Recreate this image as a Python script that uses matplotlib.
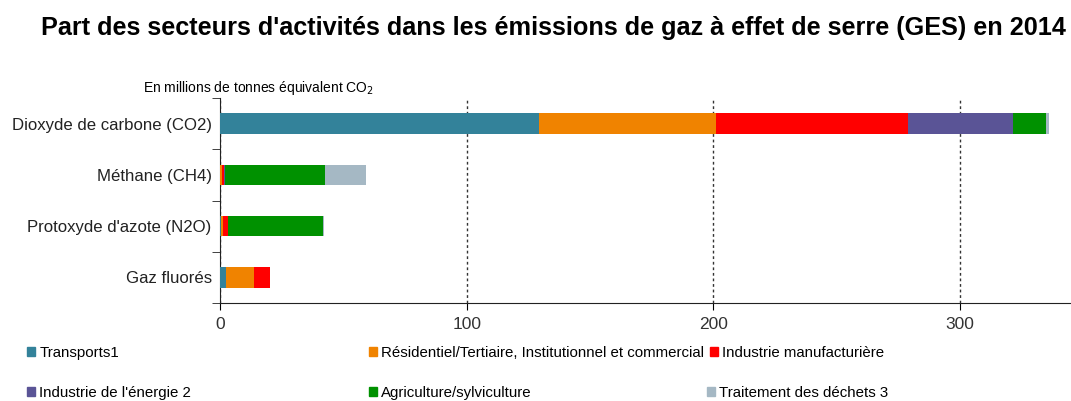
import matplotlib
matplotlib.use('Agg')
import matplotlib.pyplot as plt
from matplotlib.patches import Patch
import numpy as np

plt.rcParams['font.family'] = ['Liberation Sans', 'DejaVu Sans']

# Données (millions de tonnes équivalent CO2)
gaz = ['Dioxyde de carbone (CO2)', 'Méthane (CH4)', "Protoxyde d'azote (N2O)", 'Gaz fluorés']
secteurs = ['Transports1', 'Résidentiel/Tertiaire, Institutionnel et commercial',
            'Industrie manufacturière', "Industrie de l'énergie 2",
            'Agriculture/sylviculture', 'Traitement des déchets 3']
transports = [129.3, 0.2, 0.5, 2.4]
residentiel = [71.7, 0.6, 0.6, 11.5]
industrie = [77.8, 1.0, 2.0, 6.3]
energie = [42.5, 0.2, 0.2, 0.0]
agriculture = [13.6, 40.5, 38.3, 0.0]
dechets = [1.1, 16.6, 0.5, 0.0]
couleurs = ['#33829a', '#f08300', '#ff0000', '#5a5496', '#009100', '#a5b8c4']

series = [transports, residentiel, industrie, energie, agriculture, dechets]

fig = plt.figure(figsize=(10.71, 4.01), dpi=100)
ax = fig.add_axes([220/1071, 1-303/401, 1-220/1071, (303-98)/401])

y = np.arange(len(gaz))
left = np.zeros(len(gaz))
for vals, col, lab in zip(series, couleurs, secteurs):
    ax.barh(y, vals, left=left, height=0.4, color=col, label=lab, zorder=3)
    left += np.array(vals)

ax.set_xlim(0, 345)
ax.set_ylim(3.5, -0.5)
ax.set_yticks(y)
ax.set_yticklabels(gaz, fontsize=12.1, color='#222222')
ax.set_yticks(np.arange(-0.5, 4, 1), minor=True)
ax.tick_params(axis='y', which='major', length=0, pad=6)
ax.tick_params(axis='y', which='minor', length=6, direction='out', color='#222222')
ax.set_xticks([0, 100, 200, 300])
ax.tick_params(axis='x', length=5, direction='out', labelsize=12.5, labelcolor='#333333', pad=5)
for s in ['top', 'right']:
    ax.spines[s].set_visible(False)
ax.spines['left'].set_color('#222222')
ax.spines['bottom'].set_color('#222222')
ax.xaxis.grid(True, linestyle=(0, (2, 2)), color='#333333', linewidth=1.0, zorder=0)

fig.text(553/1071, 1-28/401, "Part des secteurs d'activités dans les émissions de gaz à effet de serre (GES) en 2014",
         ha='center', va='center', fontsize=18.2, fontweight='bold')
fig.text(143/1071, 1-88/401, 'En millions de tonnes équivalent CO$_2$', ha='left', va='center',
         fontsize=10)

# Légende, item par item
positions = [(19, 353), (361, 353), (702, 353), (19, 393), (361, 393), (699, 393)]
for lab, col, (px, py) in zip(secteurs, couleurs, positions):
    fig.legend(handles=[Patch(color=col)], labels=[lab], loc='center left',
               bbox_to_anchor=(px/1071, 1-py/401), frameon=False,
               handlelength=0.55, handleheight=0.55, handletextpad=0.3, borderpad=0,
               prop={'size': 10.8})

fig.savefig('out.png', dpi=100)
